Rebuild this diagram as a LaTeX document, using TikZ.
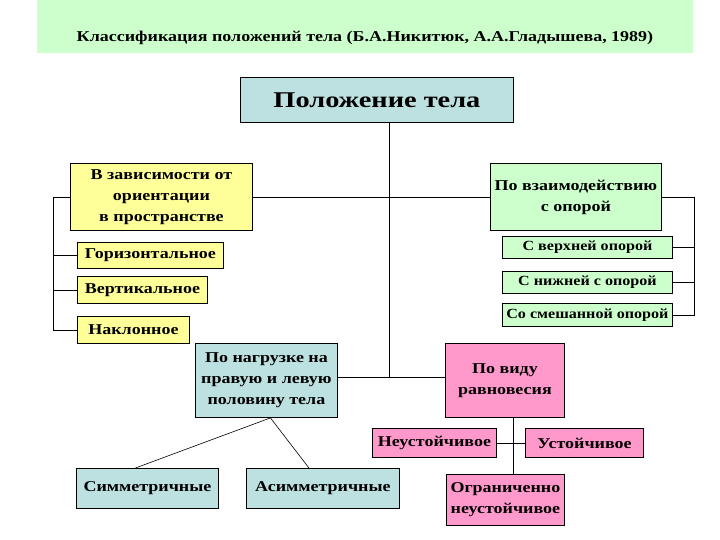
\documentclass[tikz,border=0pt]{standalone}
\usepackage{fontspec}
\setmainfont{Liberation Serif}
\newfontfamily\widefont[FakeStretch=1.2]{Liberation Serif}
\newfontfamily\smallwidefont[FakeStretch=1.15]{Liberation Serif}
\newfontfamily\bigwidefont[FakeStretch=1.26]{Liberation Serif}
\definecolor{titlegreen}{HTML}{CCFFCC}
\definecolor{boxyellow}{HTML}{FFFF99}
\definecolor{boxgreen}{HTML}{CCFFCC}
\definecolor{boxblue}{HTML}{BDE0E0}
\definecolor{boxpink}{HTML}{FF99CC}
\tikzset{
  box/.style={draw=black, line width=0.9pt, inner sep=0pt, align=center, anchor=north west,
    font=\widefont\bfseries\fontsize{15}{21}\selectfont},
  small/.style={font=\smallwidefont\bfseries\fontsize{14}{16}\selectfont},
  conn/.style={draw=black, line width=0.8pt},
  thin/.style={draw=black, line width=0.6pt}
}
\begin{document}
\begin{tikzpicture}[x=1pt,y=-1pt]
\useasboundingbox (0,0) rectangle (720,540);
\fill[titlegreen] (37,0) rectangle (693,53);
\node[font=\widefont\bfseries\fontsize{15}{18}\selectfont] (title) at (365,38) {Классификация положений тела (Б.А.Никитюк, А.А.Гладышева, 1989)};

\node[box, fill=boxblue, minimum width=273, minimum height=45, font=\bigwidefont\bfseries\fontsize{22.5}{26}\selectfont] (pos) at (240,77) {Положение тела};

\node[box, fill=boxyellow, minimum width=182, minimum height=67] (orient) at (70,163) {В зависимости от\\ориентации\\в пространстве};
\node[box, fill=boxyellow, minimum width=146, minimum height=26] (horiz) at (77,242) {Горизонтальное};
\node[box, fill=boxyellow, minimum width=130, minimum height=27] (vert) at (77,276) {Вертикальное};
\node[box, fill=boxyellow, minimum width=112, minimum height=27] (incl) at (77,316) {Наклонное};

\node[box, fill=boxgreen, minimum width=171, minimum height=67] (inter) at (490,163) {По взаимодействию\\с опорой};
\node[box, small, fill=boxgreen, minimum width=170, minimum height=22] (upper) at (502,236) {С верхней опорой};
\node[box, small, fill=boxgreen, minimum width=170, minimum height=22] (lower) at (502,271) {С нижней с опорой};
\node[box, small, fill=boxgreen, minimum width=170, minimum height=23] (mixed) at (502,303) {Со смешанной опорой};

\node[box, fill=boxblue, minimum width=142, minimum height=74] (load) at (195,343) {По нагрузке на\\правую и левую\\половину тела};
\node[box, fill=boxpink, minimum width=119, minimum height=74] (equil) at (445,343) {По виду\\равновесия};

\node[box, fill=boxpink, minimum width=124, minimum height=29] (unst) at (372,428) {Неустойчивое};
\node[box, fill=boxpink, minimum width=118, minimum height=29] (stab) at (525,428) {Устойчивое};
\node[box, fill=boxpink, minimum width=118, minimum height=51] (lim) at (446,474) {Ограниченно\\неустойчивое};

\node[box, fill=boxblue, minimum width=142, minimum height=40] (sym) at (76,468) {Симметричные};
\node[box, fill=boxblue, minimum width=153, minimum height=40] (asym) at (246,468) {Асимметричные};

% connectors
\coordinate (trunk) at ([xshift=12pt]pos.south);
\coordinate (hy) at ([yshift=3pt]load.east);
\draw[conn] (trunk) -- (trunk |- hy);
\draw[conn] (hy) -- (hy -| equil.west);
\draw[conn] (orient.east) -- (inter.west);

\coordinate (lbx) at (53,0);
\draw[conn] (orient.west) -- (orient.west -| lbx) -- (incl.west -| lbx) -- (incl.west);
\draw[conn] (horiz.west) -- (horiz.west -| lbx);
\draw[conn] (vert.west) -- (vert.west -| lbx);

\coordinate (rbx) at (694,0);
\draw[conn] (inter.east) -- (inter.east -| rbx) -- (mixed.east -| rbx) -- (mixed.east);
\draw[conn] (upper.east) -- (upper.east -| rbx);
\draw[conn] (lower.east) -- (lower.east -| rbx);

\coordinate (ldp) at ([xshift=4pt]load.south);
\draw[thin] (ldp) -- ([xshift=-12pt]sym.north);
\draw[thin] (ldp) -- ([xshift=-14pt]asym.north);

\draw[conn] ([xshift=8.5pt]equil.south) -- ([xshift=8pt]lim.north);
\draw[conn] (unst.east) -- (stab.west);
\end{tikzpicture}
\end{document}
